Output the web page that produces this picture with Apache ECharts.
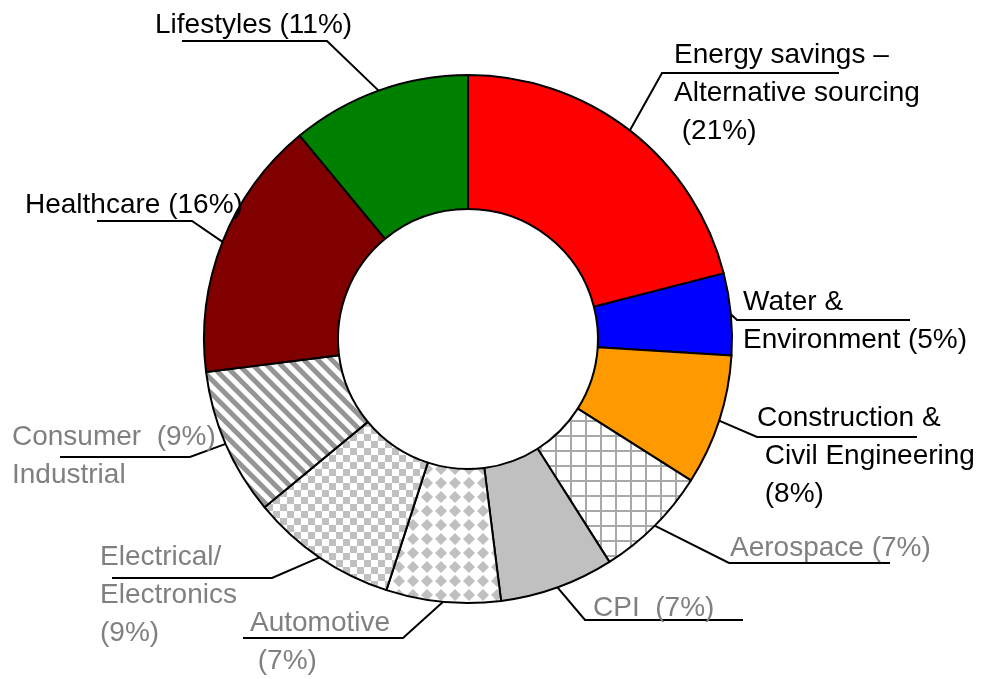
<!DOCTYPE html>
<html>
<head>
<meta charset="utf-8">
<style>
  html, body { margin: 0; padding: 0; background: #fff; }
  #chart { width: 981px; height: 679px; }
</style>
<script src="https://cdn.jsdelivr.net/npm/echarts@6/dist/echarts.min.js"></script>
</head>
<body>
<div id="chart"></div>
<script>
  // categories and shares (%), clockwise from 12 o'clock
  var categories = ['Energy savings', 'Water & Environment', 'Construction & Civil Engineering',
    'Aerospace', 'CPI', 'Automotive', 'Electrical/Electronics', 'Consumer Industrial',
    'Healthcare', 'Lifestyles']
  var shares = [21, 5, 8, 7, 7, 7, 9, 9, 16, 11]
  // label text, {c} is filled with the share
  var labelTemplates = [
    'Energy savings –\nAlternative sourcing\n ({c}%)',
    'Water &\nEnvironment ({c}%)',
    'Construction &\n Civil Engineering\n ({c}%)',
    'Aerospace ({c}%)',
    'CPI  ({c}%)',
    'Automotive\n ({c}%)',
    'Electrical/\nElectronics\n({c}%)',
    'Consumer  ({c}%)\nIndustrial',
    'Healthcare ({c}%)',
    'Lifestyles ({c}%)'
  ]

  // label placement: text left, first baseline, elbow point, end of underline
  var labelSpots = [
    {tx: 674, by: 65, ex: 662, ey: 73, hx: 839},
    {tx: 743, by: 312, ex: 737, ey: 320, hx: 910},
    {tx: 757, by: 428, ex: 757, ey: 437, hx: 917},
    {tx: 730, by: 558, ex: 729, ey: 563, hx: 890},
    {tx: 593, by: 618, ex: 585, ey: 620, hx: 743},
    {tx: 250, by: 633, ex: 403, ey: 638, hx: 243},
    {tx: 100, by: 567, ex: 272, ey: 578, hx: 112},
    {tx: 12, by: 447, ex: 190, ey: 457, hx: 60},
    {tx: 25, by: 215, ex: 192, ey: 221, hx: 97},
    {tx: 155, by: 35, ex: 327, ey: 41, hx: 182}
  ]

  function tile(size, draw) {
    var c = document.createElement('canvas')
    c.width = size
    c.height = size
    var ctx = c.getContext('2d')
    ctx.fillStyle = '#fff'
    ctx.fillRect(0, 0, size, size)
    draw(ctx, size)
    return {image: c, repeat: 'repeat'}
  }

  var gridPattern = tile(15, function (ctx, s) {
    ctx.fillStyle = '#a8a8a8'
    ctx.fillRect(0, 0, s, 2)
    ctx.fillRect(0, 0, 2, s)
  })
  var diamondPattern = tile(14, function (ctx, s) {
    ctx.fillStyle = '#c0c0c0'
    ctx.beginPath()
    ctx.moveTo(s / 2, 1)
    ctx.lineTo(s - 1, s / 2)
    ctx.lineTo(s / 2, s - 1)
    ctx.lineTo(1, s / 2)
    ctx.closePath()
    ctx.fill()
  })
  var checkerPattern = tile(14, function (ctx, s) {
    ctx.fillStyle = '#c0c0c0'
    ctx.fillRect(0, 0, s / 2, s / 2)
    ctx.fillRect(s / 2, s / 2, s / 2, s / 2)
  })
  var stripePattern = tile(14, function (ctx, s) {
    ctx.strokeStyle = '#959595'
    ctx.lineWidth = 5
    ctx.beginPath()
    ctx.moveTo(-s, -s); ctx.lineTo(2 * s, 2 * s)
    ctx.moveTo(-s, 0); ctx.lineTo(s, 2 * s)
    ctx.moveTo(0, -s); ctx.lineTo(2 * s, s)
    ctx.stroke()
  })

  var fills = ['#ff0000', '#0000ff', '#ff9900', gridPattern, '#c0c0c0',
    diamondPattern, checkerPattern, stripePattern, '#800000', '#008000']
  var textColors = ['#000', '#000', '#000', '#808080', '#808080',
    '#808080', '#808080', '#808080', '#000', '#000']

  var chart = echarts.init(document.getElementById('chart'))
  var options = {
    animation: false,
    series: [
      {
        type: 'pie',
        center: [468, 339],
        radius: [130, 264],
        startAngle: 90,
        avoidLabelOverlap: false,
        itemStyle: {
          borderColor: '#000',
          borderWidth: 2
        },
        label: {
          show: true,
          position: 'outside',
          fontFamily: '"Liberation Sans Narrow", "Arial Narrow", "Liberation Sans", Arial, sans-serif',
          fontSize: 28,
          lineHeight: 38
        },
        labelLine: {
          show: true,
          length: 10,
          length2: 10,
          lineStyle: {color: '#000', width: 2}
        },
        labelLayout: function (params) {
          var s = labelSpots[params.dataIndex]
          var p0 = params.labelLinePoints ? params.labelLinePoints[0] : [s.ex, s.ey]
          return {
            x: s.tx,
            y: s.by - 29,
            align: 'left',
            verticalAlign: 'top',
            labelLinePoints: [p0, [s.ex, s.ey], [s.hx, s.ey]]
          }
        },
        emphasis: {disabled: true},
        data: categories.map(function (name, i) {
          return {
            name: name,
            value: shares[i],
            itemStyle: {color: fills[i]},
            label: {formatter: labelTemplates[i], color: textColors[i]}
          }
        })
      }
    ]
  }
  chart.setOption(options)
</script>
</body>
</html>
